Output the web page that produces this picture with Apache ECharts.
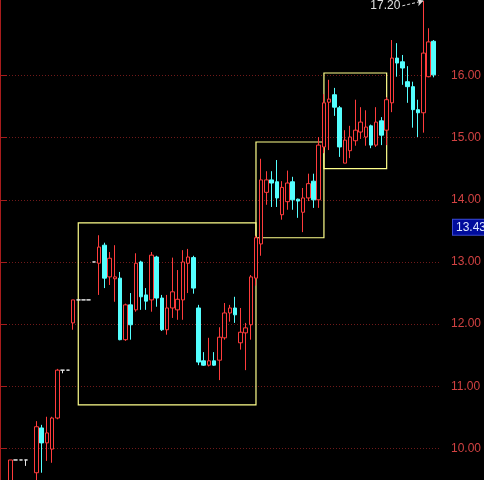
<!DOCTYPE html>
<html>
<head>
<meta charset="utf-8">
<script src="https://cdn.jsdelivr.net/npm/echarts@6/dist/echarts.min.js"></script>
<style>
  html, body { margin: 0; padding: 0; background: #000; }
  #chart { width: 484px; height: 480px; }
</style>
</head>
<body>
<div id="chart"></div>
<script>
// Daily OHLC prices (null = no session)
const opens = [
  9.35, 9.815, 9.815, 9.815, null, 9.61, 10.33, 10.09, 9.99, 10.49,
  11.26, 11.26, 12.02, 12.39, 12.39, 12.39, 13.00, 12.98, 13.27, 12.76,
  12.73, 12.74, 11.75, 12.31, 12.23, 13.00, 12.47, 12.39, 13.08, 12.42,
  11.91, 12.26, 12.23, 12.39, 12.98, 13.07, 12.26, 11.41, 11.34, 11.41,
  11.42, 11.78, 12.18, 12.26, 11.70, 11.86, 11.99, 12.74, 13.29, 14.12,
  14.32, 14.29, 13.76, 13.97, 14.29, 14.01, 13.80, 14.03, 14.30, 14.00,
  14.85, 15.57, 15.69, 15.48, 14.59, 14.79, 14.95, 15.09, 15.01, 15.19,
  14.88, 15.27, 15.12, 15.56, 16.28, 16.22, 15.90, 15.82, 15.45, 15.40,
  15.98, 16.55
];
const closes = [
  9.815, 9.815, 9.815, 9.815, null, 10.35, 10.09, 10.25, 10.49, 11.26,
  11.26, 11.26, 12.39, 12.39, 12.39, 12.39, 13.00, 13.24, 12.74, 13.06,
  12.76, 11.75, 12.31, 11.99, 12.98, 12.44, 12.37, 13.11, 12.42, 11.91,
  12.26, 12.52, 12.40, 13.00, 13.08, 12.58, 11.39, 11.34, 11.41, 11.34,
  11.79, 12.18, 12.26, 12.15, 11.87, 11.94, 12.76, 13.39, 14.32, 14.32,
  14.27, 14.03, 14.20, 14.27, 14.00, 13.98, 14.03, 14.26, 14.00, 14.88,
  15.56, 15.62, 15.49, 14.85, 14.96, 15.01, 15.12, 15.25, 15.17, 14.88,
  15.25, 15.04, 15.61, 16.28, 16.20, 16.12, 15.82, 15.45, 15.40, 16.36,
  16.54, 16.01
];
const lows = [
  9.30, 9.815, 9.815, 9.72, null, 9.40, 9.61, 9.80, 9.77, 10.47,
  11.21, 11.26, 11.91, 12.39, 12.39, 12.39, 13.00, 12.47, 12.58, 12.63,
  12.36, 11.74, 11.73, 11.75, 12.20, 12.23, 12.23, 12.20, 12.28, 11.89,
  11.83, 12.10, 12.07, 12.07, 12.50, 12.49, 11.34, 11.33, 11.32, 11.33,
  11.10, 11.75, 12.04, 12.02, 11.59, 11.26, 11.75, 12.62, 13.10, 13.92,
  13.885, 13.885, 13.68, 13.84, 13.84, 13.71, 13.48, 13.98, 13.87, 13.87,
  14.75, 14.80, 15.35, 14.69, 14.59, 14.67, 14.87, 14.98, 14.87, 14.83,
  14.85, 14.88, 14.88, 15.41, 15.98, 15.85, 15.56, 15.16, 15.01, 15.08,
  15.97, 15.97
];
const highs = [
  9.815, 9.815, 9.815, 9.815, null, 10.44, 10.38, 10.51, 10.51, 11.28,
  11.26, 11.26, 12.39, 12.39, 12.39, 12.39, 13.00, 13.43, 13.31, 13.16,
  13.27, 12.84, 12.33, 12.50, 13.14, 13.02, 12.58, 13.16, 13.10, 12.47,
  12.47, 13.07, 12.87, 13.19, 13.21, 13.10, 12.31, 11.55, 11.78, 11.55,
  11.95, 12.34, 12.31, 12.44, 12.26, 12.02, 12.79, 13.42, 14.66, 14.46,
  14.46, 14.64, 14.30, 14.47, 14.37, 14.02, 14.19, 14.42, 14.42, 15.01,
  15.70, 15.93, 15.80, 15.51, 15.12, 15.19, 15.61, 15.49, 15.44, 15.21,
  15.49, 15.33, 15.65, 16.57, 16.52, 16.33, 16.15, 15.90, 15.61, 17.20,
  16.76, 16.57
];

// Consolidation boxes: first/last session index and price range
const boxStart = [13, 47, 60];
const boxEnd = [47, 60, 72];
const boxLow = [10.70, 13.39, 14.50];
const boxHigh = [13.63, 14.93, 16.04];

// Price scale labels and the highlighted price tag
const priceTicks = [10, 11, 12, 13, 14, 15, 16];
const tagPrice = 13.43;

const yMin = 9.493;
const yMax = 17.214;
const slotCount = 85; // sessions plus empty space before the price scale

const days = Array.from({ length: slotCount }, (_, i) => 'S' + (i + 1));
const ohlc = opens.map((o, i) => (o == null ? '-' : [o, closes[i], lows[i], highs[i]]));

let peakIdx = 0;
highs.forEach((h, i) => { if (h != null && h > highs[peakIdx]) peakIdx = i; });
const peak = highs[peakIdx];

const chart = echarts.init(document.getElementById('chart'));
chart.setOption({
  backgroundColor: '#000',
  animation: false,
  textStyle: { fontFamily: 'Liberation Sans, Arial, sans-serif' },
  grid: [
    { left: 0, right: 32, top: 0, bottom: 0 },
    { left: 7.7, right: 32, top: 0, bottom: 0 }
  ],
  xAxis: [
    { gridIndex: 0, type: 'value', min: 0, max: 1, show: false },
    { gridIndex: 1, type: 'category', data: days, boundaryGap: true, show: false }
  ],
  yAxis: [
    {
      gridIndex: 0, type: 'value', position: 'right', min: yMin, max: yMax,
      axisLine: { show: true, lineStyle: { color: '#a81c1c', width: 2 } },
      axisTick: { show: true, length: 7, customValues: priceTicks, lineStyle: { color: '#a81c1c' } },
      axisLabel: {
        customValues: priceTicks, formatter: v => v.toFixed(2),
        color: '#d24242', fontSize: 12, margin: 11
      },
      splitLine: { show: true, lineStyle: { color: '#701a1a', type: [1, 2], width: 1 } }
    },
    { gridIndex: 1, type: 'value', min: yMin, max: yMax, show: false }
  ],
  series: [{
    type: 'candlestick',
    xAxisIndex: 1,
    yAxisIndex: 1,
    data: ohlc,
    barWidth: 4,
    clip: false,
    itemStyle: {
      color: '#000', color0: '#54ffff',
      borderColor: '#ff3c3c', borderColor0: '#54ffff',
      borderColorDoji: '#e8e8e8', borderWidth: 1
    },
    markArea: {
      silent: true,
      label: { show: false },
      itemStyle: { color: 'rgba(0,0,0,0)', borderColor: '#ffff8c', borderWidth: 1.2 },
      data: boxStart.map((s, k) => [
        { coord: [s, boxLow[k]] },
        { coord: [boxEnd[k], boxHigh[k]] }
      ])
    },
    markLine: {
      silent: true,
      symbol: 'none',
      data: [
        {
          yAxis: tagPrice,
          lineStyle: { color: 'rgba(0,0,0,0)' },
          label: {
            show: true, position: 'end', distance: 1, offset: [0, -8],
            formatter: () => tagPrice.toFixed(2),
            color: '#dce6ff', fontSize: 12,
            backgroundColor: '#000c9c', borderColor: '#3a4ad0', borderWidth: 1,
            padding: [2, 3, 1, 3]
          }
        },
        [
          {
            coord: [peakIdx - 4, peak - 0.08], symbol: 'none',
            lineStyle: { color: '#dcdcdc', type: [3, 2], width: 1 },
            label: { show: false }
          },
          { coord: [peakIdx, peak], symbol: 'arrow', symbolSize: 6 }
        ]
      ]
    },
    markPoint: {
      silent: true,
      symbol: 'circle',
      symbolSize: 0,
      data: [{
        coord: [peakIdx - 4, peak - 0.08],
        value: peak,
        label: {
          show: true, position: 'left', distance: 2,
          formatter: () => peak.toFixed(2),
          color: '#e0e0e0', fontSize: 12
        }
      }]
    }
  }]
});
</script>
</body>
</html>
